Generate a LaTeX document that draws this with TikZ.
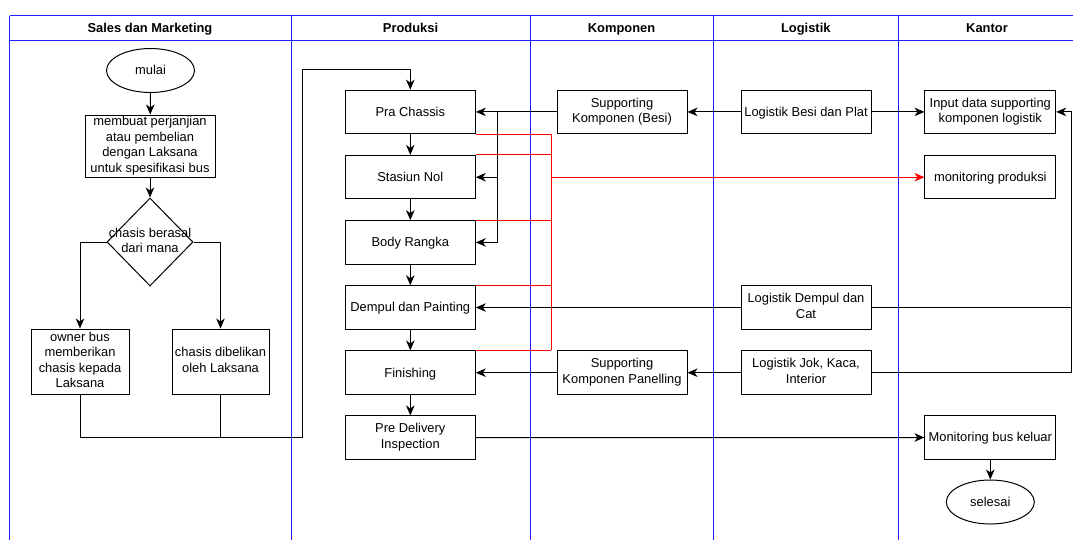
\documentclass[tikz,border=0pt]{standalone}
\usepackage{fontspec}
\setmainfont{Liberation Sans}
\usetikzlibrary{shapes.geometric,arrows.meta}

% line box of one text line: ascent above, descent below the baseline
\newcommand{\lnstrut}{\rule[-3.3pt]{0pt}{15.5pt}}

\definecolor{laneblue}{RGB}{30,30,255}

\begin{document}
\begin{tikzpicture}[x=1pt,y=-1pt,
  txt/.style={font=\fontsize{12.9}{15.6}\selectfont, align=center, text=black,
              execute at begin node=\lnstrut, execute at end node=\lnstrut},
  lane/.style={draw=laneblue, line width=1pt},
  lanehead/.style={txt, font=\bfseries\fontsize{12.9}{15.6}\selectfont},
  box/.style={txt, draw=black, line width=1pt, fill=white, rectangle, inner sep=0pt,
              minimum width=130pt, minimum height=43.5pt},
  terminal/.style={txt, draw=black, line width=1pt, fill=white, ellipse, inner sep=0pt,
              minimum width=88pt, minimum height=44pt},
  decision/.style={draw=black, line width=1pt, fill=white, diamond, inner sep=0pt,
              minimum width=86pt, minimum height=88pt},
  link/.style={draw=black, line width=1pt},
  tip/.style={-{Stealth[length=10pt,width=8.5pt,inset=3pt]}},
  arr/.style={link, tip},
  redlink/.style={draw=red, line width=1pt},
  redarr/.style={redlink, tip}
]
\useasboundingbox (0,0) rectangle (1073,539);
\clip (0,0) rectangle (1073,539);

% swimlane frame and separators
\draw[lane] (9.5,15.5) -- (1090,15.5);
\draw[lane] (9.5,40) -- (1090,40);
\foreach \x in {9.5,291.5,530,713.8,898.3}
  \draw[lane] (\x,15.5) -- (\x,560);

% lane titles
\node[lanehead] (hSales) at (150,27.7) {Sales dan Marketing};
\node[lanehead] (hProd)  at (410.5,27.7) {Produksi};
\node[lanehead] (hKomp)  at (621.6,27.7) {Komponen};
\node[lanehead] (hLog)   at (805.8,27.7) {Logistik};
\node[lanehead] (hKant)  at (987,27.7) {Kantor};

% Sales dan Marketing
\node[terminal] (mulai) at (150.5,70.5) {mulai};
\node[box, minimum height=62pt] (perj) at (150,146)
  {membuat perjanjian\\atau pembelian\\dengan Laksana\\untuk spesifikasi bus};
\node[decision, label={[txt]center:chasis berasal\\dari mana}] (asal) at (150,242) {};
\node[box, minimum width=98pt, minimum height=65pt] (owner) at (80,361.5)
  {owner bus\\memberikan\\chasis kepada\\Laksana};
\node[box, minimum width=97pt, minimum height=65pt] (beli) at (220.5,361.5)
  {chasis dibelikan\\oleh Laksana};

% Produksi
\node[box] (pra)    at (410.3,111.9) {Pra Chassis};
\node[box] (nol)    at (410.3,177.2) {Stasiun Nol};
\node[box] (rangka) at (410.3,242.4) {Body Rangka};
\node[box] (dempul) at (410.3,307.5) {Dempul dan Painting};
\node[box] (finish) at (410.3,372.7) {Finishing};
\node[box] (pdi)    at (410.3,437.7) {Pre Delivery\\Inspection};

% Komponen
\node[box] (supbesi)  at (622,111.9) {Supporting\\Komponen (Besi)};
\node[box] (suppanel) at (622,372.7) {Supporting\\Komponen Panelling};

% Logistik
\node[box] (logbesi)   at (806,111.9) {Logistik Besi dan Plat};
\node[box] (logdempul) at (806,307.5) {Logistik Dempul dan\\Cat};
\node[box] (logjok)    at (806,372.7) {Logistik Jok, Kaca,\\Interior};

% Kantor
\node[box, minimum width=130.7pt] (input)   at (990.3,111.9) {Input data supporting\\komponen logistik};
\node[box, minimum width=130.7pt] (monprod) at (990.3,177.2) {monitoring produksi};
\node[box, minimum width=130.7pt] (monbus)  at (990.3,437.5) {Monitoring bus keluar};
\node[terminal] (selesai) at (990.3,502) {selesai};

% routing points
\coordinate (join)   at (302,437.3);
\coordinate (rise)   at (302,69);
\coordinate (feed)   at (497.3,111.9);
\coordinate (rbus)   at (551,0);
\coordinate (rline)  at (1071.7,0);

% Sales flow
\draw[arr] (mulai) -- (perj);
\draw[arr] (perj) -- (asal);
\draw[arr] (asal.west) -| (owner.north);
\draw[arr] (asal.east) -| (beli.north);
\draw[link] (beli.south) |- (join);
\draw[arr] (owner.south) |- (join) -- (rise) -| (pra.north);

% production line
\draw[arr] (pra) -- (nol);
\draw[arr] (nol) -- (rangka);
\draw[arr] (rangka) -- (dempul);
\draw[arr] (dempul) -- (finish);
\draw[arr] (finish) -- (pdi);

% component supply into production
\draw[arr] (supbesi.west) -- (pra.east);
\draw[arr] (feed) |- (nol.east);
\draw[arr] (feed) |- (rangka.east);
\draw[arr] (suppanel.west) -- (finish.east);

% production reports to monitoring
\draw[redlink] (pra.south east) -| (finish.north east -| rbus);
\draw[redlink] (nol.north east) -- (nol.north east -| rbus);
\draw[redlink] (rangka.north east) -- (rangka.north east -| rbus);
\draw[redlink] (dempul.north east) -- (dempul.north east -| rbus);
\draw[redlink] (finish.north east) -- (finish.north east -| rbus);
\draw[redarr] (monprod.west -| rbus) -- (monprod.west);

% logistics
\draw[arr] (logbesi.west) -- (supbesi.east);
\draw[arr] (logbesi.east) -- (input.west);
\draw[arr] (logdempul.west) -- (dempul.east);
\draw[arr] (logjok.west) -- (suppanel.east);
\draw[arr] (logdempul.east) -- (logdempul.east -| rline) |- (input.east);
\draw[link] (logjok.east) -| (logdempul.east -| rline);

% delivery
\draw[arr] (pdi.east) -- (monbus.west);
\draw[arr] (monbus) -- (selesai);
\end{tikzpicture}
\end{document}
